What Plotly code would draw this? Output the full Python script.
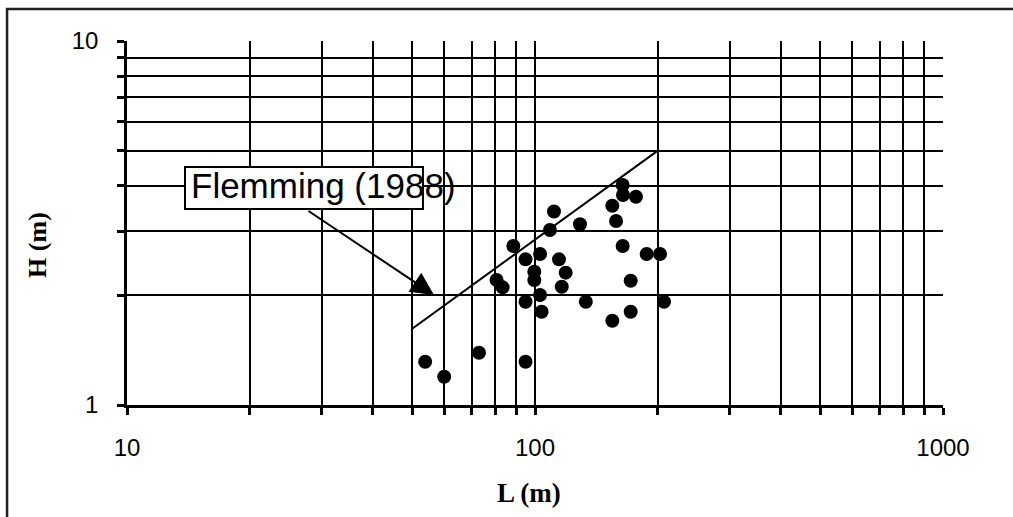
import plotly.graph_objects as go

# Data
L_m = [53.8, 59.9, 72.9, 94.8, 80.5, 83.3, 88.5, 94.8, 102.9, 99.6, 99.6, 94.8,
       102.9, 103.8, 108.8, 111.3, 114.5, 118.9, 116.3, 133.2, 128.9, 154.7, 158.0,
       164.0, 164.3, 176.8, 164.0, 171.6, 171.6, 154.7, 187.8, 202.5, 207.1]
H_m = [1.315, 1.196, 1.392, 1.315, 2.205, 2.105, 2.734, 2.513, 2.598, 2.323, 2.205, 1.922,
       2.005, 1.804, 3.026, 3.40, 2.513, 2.31, 2.113, 1.922, 3.136, 3.528, 3.203,
       4.02, 3.775, 3.735, 2.734, 2.195, 1.804, 1.704, 2.598, 2.598, 1.922]

flemming_L = [50, 200]
flemming_H = [1.62, 5.0]

x_tickvals = [10, 20, 30, 40, 50, 60, 70, 80, 90, 100, 200, 300, 400, 500, 600, 700, 800, 900, 1000]
x_ticktext = ["10"] + [""] * 8 + ["100"] + [""] * 8 + ["1000"]
y_tickvals = [1, 2, 3, 4, 5, 6, 7, 8, 9, 10]
y_ticktext = ["1"] + [""] * 8 + ["10"]

ARIAL = "Liberation Sans, Arial, sans-serif"
TIMES = "Liberation Serif, Times New Roman, serif"

fig = go.Figure()
fig.add_trace(go.Scatter(x=flemming_L, y=flemming_H, mode="lines",
                         line=dict(color="black", width=2), showlegend=False, hoverinfo="skip"))
fig.add_trace(go.Scatter(x=L_m, y=H_m, mode="markers",
                         marker=dict(color="black", size=14, line=dict(width=0)),
                         showlegend=False))

axis_common = dict(type="log", showgrid=True, gridcolor="black", gridwidth=2.2,
                   showline=True, linecolor="black", linewidth=2.5,
                   ticks="outside", ticklen=7, tickwidth=2.5, tickcolor="black",
                   tickfont=dict(family=ARIAL, size=24, color="black"),
                   zeroline=False, mirror=False)

fig.update_xaxes(range=[1, 3], tickmode="array", tickvals=x_tickvals, ticktext=x_ticktext,
                 ticklabelstandoff=12, **axis_common)
fig.update_yaxes(range=[0, 1], tickmode="array", tickvals=y_tickvals, ticktext=y_ticktext,
                 ticklabelstandoff=14, **axis_common)

shapes = [
    # outer frame (cropped at right and bottom)
    dict(type="rect", xref="paper", yref="paper", x0=-0.147, x1=1.5, y0=-1.0, y1=1.0879,
         line=dict(color="#222222", width=2.5), fillcolor="rgba(0,0,0,0)", layer="above"),
    # label box
    dict(type="rect", xref="paper", yref="paper", x0=0.0711, x1=0.3627, y0=0.5385, y1=0.6538,
         line=dict(color="black", width=2), fillcolor="white", layer="above"),
]

annotations = [
    dict(text="Flemming (1988)", xref="paper", yref="paper", x=0.0760, y=0.604,
         xanchor="left", yanchor="middle", showarrow=False,
         font=dict(family=ARIAL, size=35, color="black")),
    dict(text="", xref="paper", yref="paper", x=0.3762, y=0.3022,
         ax=-127, ay=-85, axref="pixel", ayref="pixel", showarrow=True,
         arrowhead=2, arrowsize=2.3, arrowwidth=2, arrowcolor="black", standoff=0),
    dict(text="<b>L (m)</b>", xref="paper", yref="paper", x=0.4926, y=-0.2418,
         xanchor="center", yanchor="middle", showarrow=False,
         font=dict(family=TIMES, size=27, color="black")),
    dict(text="<b>H (m)</b>", xref="paper", yref="paper", x=-0.109, y=0.44,
         xanchor="center", yanchor="middle", textangle=-90, showarrow=False,
         font=dict(family=TIMES, size=26, color="black")),
]

fig.update_layout(width=1013, height=517,
                  margin=dict(l=127, r=70, t=41, b=112),
                  paper_bgcolor="white", plot_bgcolor="white",
                  shapes=shapes, annotations=annotations)

fig.write_html("out.html", config={"displayModeBar": False},
               post_script="document.body.style.margin='0';document.body.style.overflow='hidden';")
